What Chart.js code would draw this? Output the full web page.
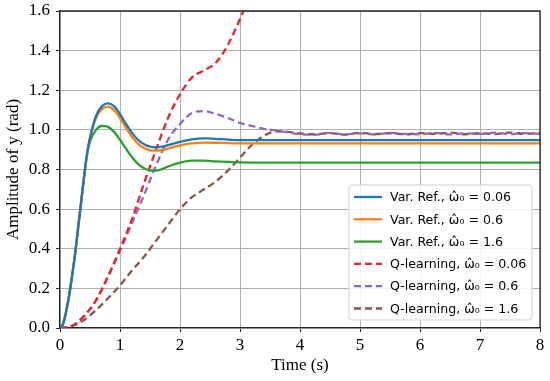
<!DOCTYPE html>
<html>
<head>
<meta charset="utf-8">
<script src="https://cdn.jsdelivr.net/npm/chart.js@4/dist/chart.umd.min.js"></script>
<style>
  html, body { margin: 0; padding: 0; background: #fff; }
  #wrap { width: 550px; height: 381px; position: relative; }
</style>
</head>
<body>
<div id="wrap"><canvas id="respostaChart"></canvas></div>
<script>
// tempo (s) para as curvas de referencia variavel
const timeVar = [0, 0.05, 0.1, 0.15, 0.2, 0.25, 0.3, 0.35, 0.4, 0.45, 0.5, 0.6, 0.7, 0.8, 0.9, 1.0, 1.1, 1.2, 1.3, 1.4, 1.5, 1.6, 1.7, 1.8, 2.0, 2.2, 2.4, 2.6, 2.8, 3.0, 3.5, 4, 5, 6, 7, 8];
const var006 = [0, 0.02, 0.08, 0.16, 0.26, 0.37, 0.50, 0.63, 0.76, 0.88, 0.96, 1.07, 1.12, 1.134, 1.12, 1.08, 1.03, 0.985, 0.95, 0.927, 0.915, 0.912, 0.915, 0.923, 0.94, 0.952, 0.957, 0.955, 0.951, 0.948, 0.948, 0.948, 0.948, 0.948, 0.948, 0.948];
const var06 = [0, 0.02, 0.08, 0.16, 0.26, 0.37, 0.50, 0.63, 0.76, 0.875, 0.955, 1.06, 1.105, 1.117, 1.10, 1.06, 1.01, 0.965, 0.93, 0.908, 0.897, 0.895, 0.898, 0.906, 0.922, 0.932, 0.936, 0.935, 0.933, 0.932, 0.932, 0.932, 0.932, 0.932, 0.932, 0.932];
const var16 = [0, 0.02, 0.08, 0.16, 0.26, 0.37, 0.50, 0.63, 0.76, 0.87, 0.94, 1.0, 1.02, 1.015, 0.99, 0.95, 0.905, 0.862, 0.828, 0.806, 0.795, 0.794, 0.802, 0.815, 0.835, 0.845, 0.845, 0.841, 0.838, 0.836, 0.835, 0.835, 0.835, 0.835, 0.835, 0.835];

// tempo (s) para as curvas do Q-learning
const timeQ = [0, 0.2, 0.4, 0.6, 0.8, 1.0, 1.2, 1.4, 1.6, 1.8, 2.0, 2.2, 2.4, 2.6, 2.8, 3.0, 3.2, 3.4, 3.6, 3.8, 4.0, 4.25, 4.5, 4.75, 5.0, 5.25, 5.5, 5.75, 6.0, 6.25, 6.5, 6.75, 7.0, 7.25, 7.5, 7.75, 8.0];
const q006 = [0, 0.01, 0.06, 0.14, 0.26, 0.40, 0.55, 0.73, 0.90, 1.06, 1.18, 1.265, 1.30, 1.34, 1.43, 1.56, 1.70, null, null, null, null, null, null, null, null, null, null, null, null, null, null, null, null, null, null, null, null];
const q06 = [0, 0.01, 0.06, 0.14, 0.26, 0.39, 0.53, 0.67, 0.82, 0.95, 1.03, 1.085, 1.095, 1.08, 1.06, 1.035, 1.02, 1.005, 0.997, 0.987, 0.978, 0.975, 0.985, 0.978, 0.982, 0.976, 0.985, 0.98, 0.978, 0.985, 0.977, 0.983, 0.98, 0.986, 0.978, 0.984, 0.979];
const q16 = [0, 0.01, 0.04, 0.09, 0.15, 0.215, 0.29, 0.36, 0.44, 0.52, 0.60, 0.66, 0.70, 0.74, 0.795, 0.86, 0.925, 0.97, 0.993, 0.99, 0.982, 0.978, 0.984, 0.976, 0.985, 0.979, 0.983, 0.977, 0.984, 0.98, 0.986, 0.978, 0.983, 0.979, 0.986, 0.98, 0.984];

const xTicks = [0, 1, 2, 3, 4, 5, 6, 7, 8];
const yTicks = [0.0, 0.2, 0.4, 0.6, 0.8, 1.0, 1.2, 1.4, 1.6];

function pontos(tempos, valores) {
    return tempos.map((t, i) => ({ x: t, y: valores[i] }));
}

function serie(label, tempos, valores, cor, tracejado) {
    return {
        label: label,
        data: pontos(tempos, valores),
        borderColor: cor,
        backgroundColor: cor,
        borderWidth: 2.3,
        borderDash: tracejado ? [7, 4] : [],
        pointRadius: 0,
        cubicInterpolationMode: "monotone",
        spanGaps: false
    };
}

// legenda desenhada dentro da area do grafico, canto inferior direito
const legendaInterna = {
    id: "legendaInterna",
    afterDraw(chart) {
        const ctx = chart.ctx;
        const a = chart.chartArea;

        // moldura completa (topo e direita)
        ctx.save();
        ctx.strokeStyle = "#262626";
        ctx.lineWidth = 1.3;
        ctx.beginPath();
        ctx.moveTo(a.left, a.top);
        ctx.lineTo(a.right, a.top);
        ctx.lineTo(a.right, a.bottom);
        ctx.stroke();

        const x0 = 349, y0 = 185, w = 183, h = 135, r = 3;
        ctx.beginPath();
        ctx.moveTo(x0 + r, y0);
        ctx.arcTo(x0 + w, y0, x0 + w, y0 + h, r);
        ctx.arcTo(x0 + w, y0 + h, x0, y0 + h, r);
        ctx.arcTo(x0, y0 + h, x0, y0, r);
        ctx.arcTo(x0, y0, x0 + w, y0, r);
        ctx.closePath();
        ctx.fillStyle = "rgba(255,255,255,0.85)";
        ctx.fill();
        ctx.strokeStyle = "#d0d0d0";
        ctx.lineWidth = 1;
        ctx.stroke();

        ctx.font = "12.6px 'DejaVu Sans'";
        ctx.textBaseline = "middle";
        ctx.textAlign = "left";
        chart.data.datasets.forEach((ds, i) => {
            const y = 197 + i * 22.3;
            ctx.strokeStyle = ds.borderColor;
            ctx.lineWidth = 2.3;
            ctx.setLineDash(ds.borderDash);
            ctx.beginPath();
            ctx.moveTo(354, y);
            ctx.lineTo(382, y);
            ctx.stroke();
            ctx.setLineDash([]);
            ctx.fillStyle = "#000";
            ctx.fillText(ds.label, 390, y + 1);
        });
        ctx.restore();
    }
};

const ctxResposta = document.getElementById("respostaChart").getContext("2d");

let respostaChart = new Chart(ctxResposta, {
    type: "line",
    data: {
        datasets: [
            serie("Var. Ref., \u03C9\u0302\u2080 = 0.06", timeVar, var006, "#1f77b4", false),
            serie("Var. Ref., \u03C9\u0302\u2080 = 0.6", timeVar, var06, "#ff7f0e", false),
            serie("Var. Ref., \u03C9\u0302\u2080 = 1.6", timeVar, var16, "#2ca02c", false),
            serie("Q-learning, \u03C9\u0302\u2080 = 0.06", timeQ, q006, "#e8242c", true),
            serie("Q-learning, \u03C9\u0302\u2080 = 0.6", timeQ, q06, "#9467bd", true),
            serie("Q-learning, \u03C9\u0302\u2080 = 1.6", timeQ, q16, "#8c564b", true)
        ]
    },
    options: {
        responsive: true,
        maintainAspectRatio: false,
        animation: false,
        layout: { padding: { left: 0, right: 10, top: 11, bottom: 0 } },
        plugins: {
            legend: { display: false },
            tooltip: { enabled: false }
        },
        scales: {
            x: {
                type: "linear",
                min: 0,
                max: 8,
                afterFit: s => { s.height = 53; },
                afterBuildTicks: s => { s.ticks = xTicks.map(v => ({ value: v })); },
                ticks: {
                    color: "#000",
                    padding: 3,
                    maxRotation: 0,
                    font: { family: "'Liberation Serif'", size: 17 },
                    callback: v => String(v)
                },
                grid: { color: "#b0b0b0", lineWidth: 1, tickLength: 4, tickColor: "#262626" },
                border: { color: "#262626", width: 1.3 },
                title: {
                    display: true,
                    text: "Time (s)",
                    color: "#000",
                    padding: { top: 0, bottom: 5 },
                    font: { family: "'Liberation Serif'", size: 17 }
                }
            },
            y: {
                type: "linear",
                min: 0,
                max: 1.6,
                afterFit: s => { s.width = 60; s.paddingTop = 0; s.paddingBottom = 0; },
                afterBuildTicks: s => { s.ticks = yTicks.map(v => ({ value: v })); },
                ticks: {
                    color: "#000",
                    padding: 6,
                    font: { family: "'Liberation Serif'", size: 17 },
                    callback: v => Number(v).toFixed(1)
                },
                grid: { color: "#b0b0b0", lineWidth: 1, tickLength: 4, tickColor: "#262626" },
                border: { color: "#262626", width: 1.3 },
                title: {
                    display: true,
                    text: "Amplitude of y (rad)",
                    color: "#000",
                    padding: { top: 3, bottom: 0 },
                    font: { family: "'Liberation Serif'", size: 17 }
                }
            }
        }
    },
    plugins: [legendaInterna]
});
</script>
</body>
</html>
